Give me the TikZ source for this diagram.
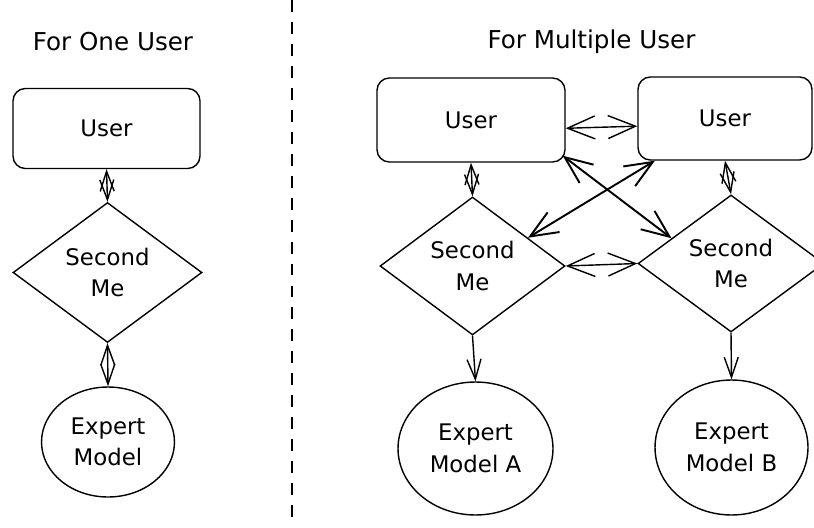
\documentclass[tikz,border=0pt]{standalone}
\usepackage{fontspec}
\setmainfont{DejaVu Sans}
\usetikzlibrary{shapes.geometric,arrows.meta}
\begin{document}
\begin{tikzpicture}[x=0.02cm,y=-0.02cm,line width=0.8pt,font=\fontsize{13}{18}\selectfont,
		userbox/.style={draw,rounded corners=7pt,align=center},
		meshape/.style={draw,diamond,aspect=1.35,inner sep=0pt,align=center},
		expshape/.style={draw,ellipse,inner sep=0pt,align=center},
		vtip/.style={>={Straight Barb[length=4mm,width=2.8mm]}},
		htip/.style={>={Straight Barb[length=5.5mm,width=4.6mm]}},
		divider/.style={line width=1.7pt,dash pattern=on 6.8pt off 5.7pt}]
			\useasboundingbox (0,0) rectangle (814,527);
			\clip (0,0) rectangle (814,527);
			% one user
			\node[font=\fontsize{14}{18}\selectfont] (titleA) at (113,42) {For One User};
			\node[userbox,minimum width=3.74cm,minimum height=1.6cm] (userA) at (106.5,128.5) {User};
			\node[meshape,minimum width=3.78cm,minimum height=2.8cm] (meA) at (107.5,272.5) {Second\\Me};
			\node[expshape,minimum width=2.66cm,minimum height=2.2cm] (expA) at (108,442) {Expert\\Model};
			\draw[<->,vtip] (userA.south) -- (meA.north);
			\draw[<->,vtip] (meA.south) -- (expA.north);
			% divider
			\coordinate (divtop) at (292,0);
			\coordinate (divbot) at (292,527);
			\draw[divider] (divtop) -- (divbot);
			% multiple user
			\node[font=\fontsize{14}{18}\selectfont] (titleB) at (591.5,42) {For Multiple User};
			\node[userbox,minimum width=3.76cm,minimum height=1.68cm] (userL) at (471,120) {User};
			\node[userbox,minimum width=3.48cm,minimum height=1.66cm] (userR) at (725,118.5) {User};
			\node[meshape,minimum width=3.7cm,minimum height=2.76cm] (meL) at (472.5,266) {Second\\Me};
			\node[meshape,minimum width=3.72cm,minimum height=2.74cm] (meR) at (731,263.5) {Second\\Me};
			\node[expshape,minimum width=3.1cm,minimum height=2.66cm] (expL) at (475.5,448.5) {Expert\\Model A};
			\node[expshape,minimum width=3.06cm,minimum height=2.7cm] (expR) at (731.5,447.5) {Expert\\Model B};
			\draw[<->,htip] (userL.-5) -- (userR.185);
			\draw[<->,htip] (meL.east) -- (meR.west);
			\draw[<->,htip,line width=1.1pt] ([shift={(-3,-7)}]userL.south east) -- (meR.157);
			\draw[<->,htip,line width=1.1pt] ([xshift=10]userR.south west) -- (meL.27);
			\draw[<->,vtip] (userL.south) -- (meL.north);
			\draw[<->,vtip] (userR.south) -- (meR.north);
			\draw[->,vtip] (meL.south) -- (expL.north);
			\draw[->,vtip] (meR.south) -- (expR.north);
		\end{tikzpicture}
\end{document}
